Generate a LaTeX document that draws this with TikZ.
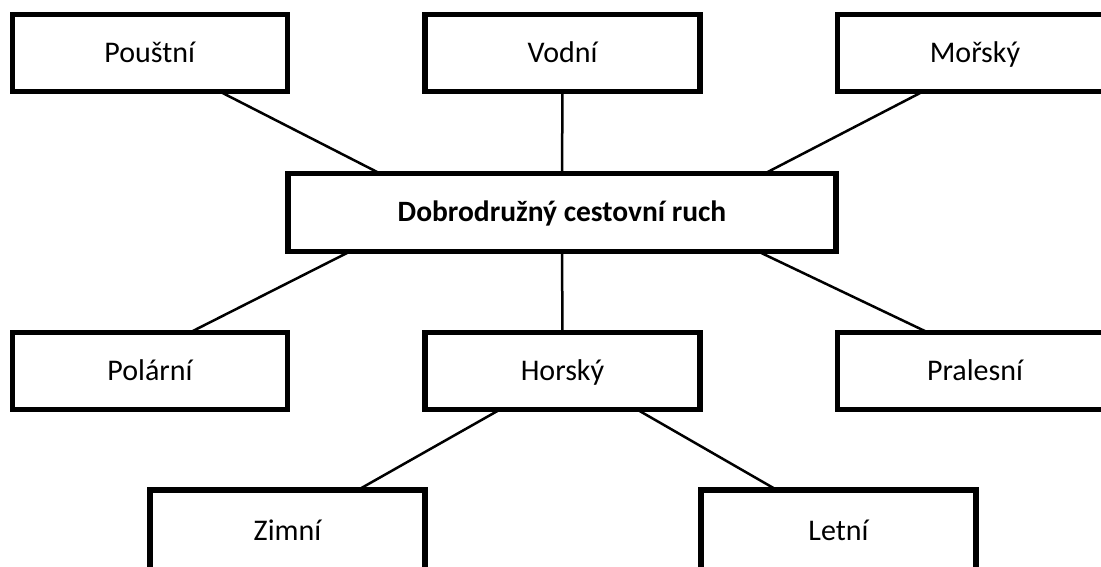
\documentclass[tikz,border=0pt]{standalone}
\usepackage{fontspec}
\setmainfont{Carlito}
\usetikzlibrary{calc}
\tikzset{
  box/.style={draw=black, fill=white, line width=5.5pt, inner sep=0pt, outer sep=0pt,
    minimum width=275pt, minimum height=77pt, text height=19pt, text depth=0pt,
    font=\fontsize{30}{36}\selectfont},
  wide/.style={box, minimum width=548pt, minimum height=78pt, font=\fontsize{29.5}{36}\selectfont\bfseries},
  tall/.style={box, minimum height=82pt},
  conn/.style={draw=black, line width=2.5pt}
}
\begin{document}
\begin{tikzpicture}[x=1pt, y=-1pt]
\useasboundingbox (0,0) rectangle (1101,567);
\clip (0,0) rectangle (1101,567);
\fill[white] (0,0) rectangle (1101,567);
\node[box] (pou) at (149.75,53.25) {Pouštní};
\node[box] (vod) at (562.5,53) {Vodní};
\node[box] (mor) at (975,53) {Mořský};
\node[wide] (cen) at (562,212.5) {Dobrodružný cestovní ruch};
\node[box] (pol) at (150,371) {Polární};
\node[box] (hor) at (562.5,371) {Horský};
\node[box] (pra) at (975,371) {Pralesní};
\node[tall] (zim) at (287.5,531) {Zimní};
\node[tall] (let) at (838.5,531) {Letní};
% attachment points
\coordinate (pouB) at ($(pou.south west)!0.756!(pou.south east)$);
\coordinate (morB) at ($(mor.south west)!0.311!(mor.south east)$);
\coordinate (cenTL) at ($(cen.north west)!0.168!(cen.north east)$);
\coordinate (cenTR) at ($(cen.north west)!0.870!(cen.north east)$);
\coordinate (cenBL) at ($(cen.south west)!0.113!(cen.south east)$);
\coordinate (cenBR) at ($(cen.south west)!0.858!(cen.south east)$);
\coordinate (polT) at ($(pol.north west)!0.645!(pol.north east)$);
\coordinate (praT) at ($(pra.north west)!0.329!(pra.north east)$);
\coordinate (horBL) at ($(hor.south west)!0.273!(hor.south east)$);
\coordinate (horBR) at ($(hor.south west)!0.771!(hor.south east)$);
\coordinate (zimT) at ($(zim.north west)!0.756!(zim.north east)$);
\coordinate (letT) at ($(let.north west)!0.276!(let.north east)$);
\draw[conn] (pouB) -- (cenTL);
\draw[conn] (vod.south) -- (cen.north);
\draw[conn] (morB) -- (cenTR);
\draw[conn] (cenBL) -- (polT);
\draw[conn] (cen.south) -- (hor.north);
\draw[conn] (cenBR) -- (praT);
\draw[conn] (horBL) -- (zimT);
\draw[conn] (horBR) -- (letT);
\end{tikzpicture}
\end{document}
